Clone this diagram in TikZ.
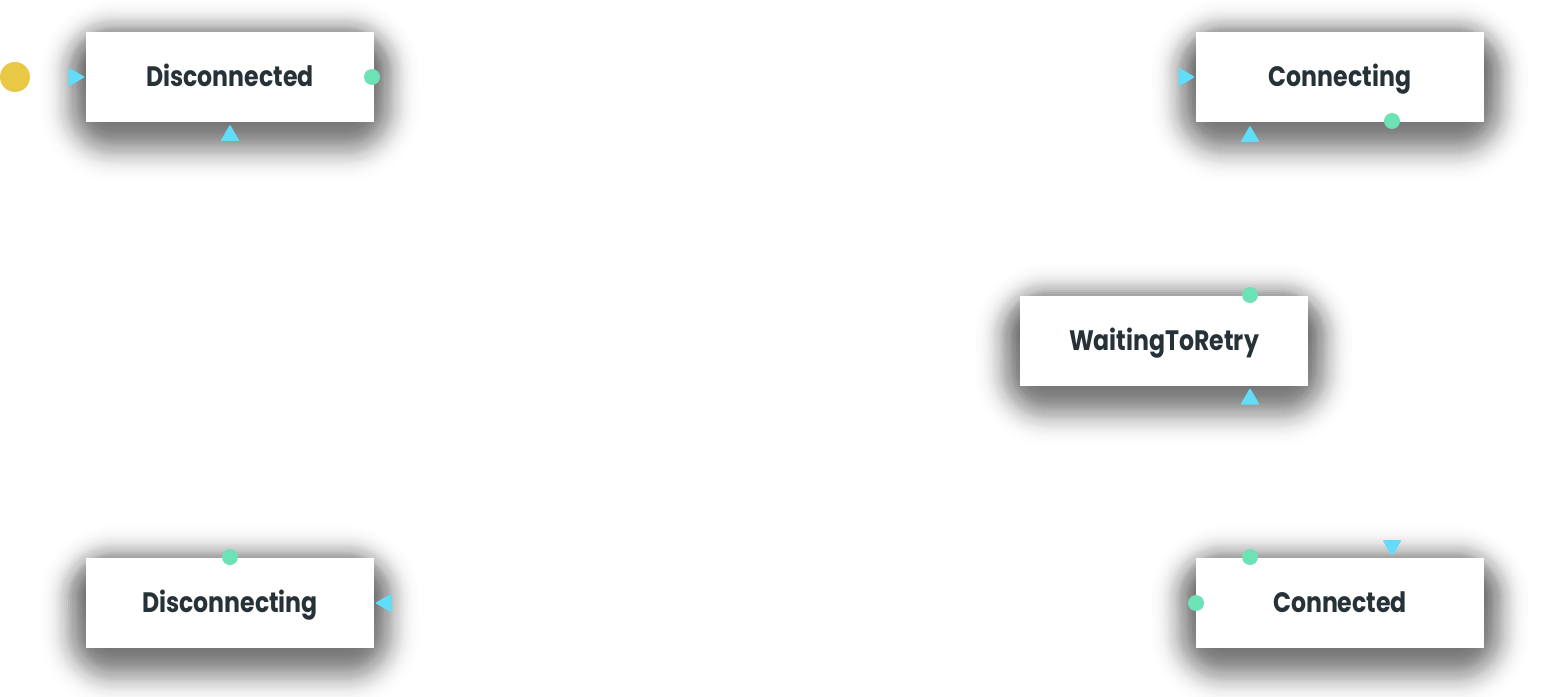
\documentclass[tikz,border=0pt]{standalone}
\usepackage{fontspec}
\setmainfont{Poppins}
\newfontfamily\lblfont[FakeStretch=0.84]{Poppins}
\usetikzlibrary{shapes.geometric}
\definecolor{txt}{HTML}{263238}
\definecolor{inblue}{HTML}{61DDF9}
\definecolor{outgreen}{HTML}{6CE2B6}
\definecolor{startyellow}{HTML}{E9C846}
\definecolor{shade}{HTML}{323C46}
% soft (gaussian-like) shadow of a 288x90 box centred at (#1,#2)
\newcommand\softshadow[2]{%
  \foreach \e in {-48,-46,...,64}{%
    \pgfmathsetmacro\a{1.45*2/(18*2.5066)*exp(-(\e*\e)/(2*18*18))}%
    \pgfmathsetmacro\r{max(0.5,\e+28)}%
    \fill[shade, opacity=\a, rounded corners=\r*0.02cm]
      (#1-144-\e, #2-45+14-\e) rectangle (#1+144+\e, #2+45+14+\e);
  }%
}
\tikzset{
  statebox/.style={fill=white, minimum width=5.76cm, minimum height=1.8cm, inner sep=0pt,
    font=\lblfont\fontsize{16}{19}\selectfont\bfseries, text=txt, text height=11pt, text depth=0pt},
  outport/.style={circle, fill=outgreen, minimum size=0.32cm, inner sep=0pt},
  inport/.style={regular polygon, regular polygon sides=3, fill=inblue, minimum size=0.44cm,
    inner sep=0pt, rounded corners=0.6pt},
  startdot/.style={circle, fill=startyellow, minimum size=0.6cm, inner sep=0pt},
}
\begin{document}
\begin{tikzpicture}[x=0.02cm, y=-0.02cm]
\useasboundingbox (0,0) rectangle (1544,696);
\softshadow{230}{77}
\softshadow{1340}{77}
\softshadow{1164}{341}
\softshadow{1340}{603}
\softshadow{230}{603}
\node[statebox] (disc) at (230,77) {Disconnected};
\node[statebox] (conn) at (1340,77) {Connecting};
\node[statebox] (wait) at (1164,341) {WaitingToRetry};
\node[statebox] (cond) at (1340,603) {Connected};
\node[statebox] (dcing) at (230,603) {Disconnecting};
% start
\node[startdot] (start) at (15,77) {};
% Disconnected ports
\node[inport, shape border rotate=-90] (disc-in1) at (74,77) {};
\node[outport] (disc-out) at (372,77) {};
\node[inport] (disc-in2) at (230,135.5) {};
% Connecting ports
\node[inport, shape border rotate=-90] (conn-in1) at (1184,77) {};
\node[outport] (conn-out) at (1392,121) {};
\node[inport] (conn-in2) at (1250,136.5) {};
% WaitingToRetry ports
\node[outport] (wait-out) at (1250,295) {};
\node[inport] (wait-in) at (1250,399) {};
% Connected ports
\node[outport] (cond-out1) at (1250,557) {};
\node[outport] (cond-out2) at (1196,603) {};
\node[inport, shape border rotate=180] (cond-in) at (1392,545.5) {};
% Disconnecting ports
\node[outport] (dcing-out) at (230,557) {};
\node[inport, shape border rotate=90] (dcing-in) at (386,603) {};
\end{tikzpicture}
\end{document}
